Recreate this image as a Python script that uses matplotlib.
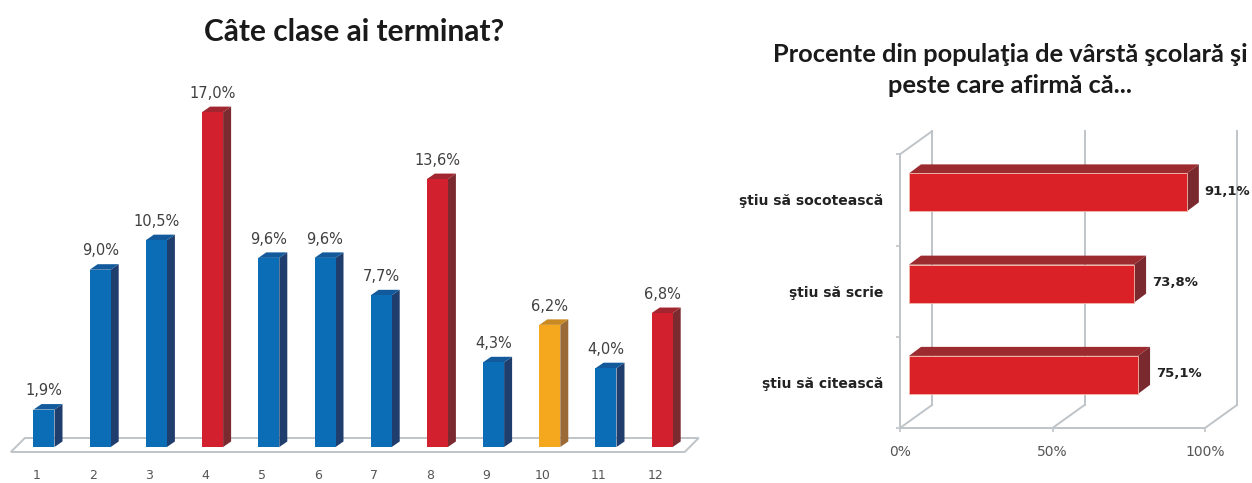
import matplotlib
matplotlib.use("Agg")
import matplotlib.pyplot as plt
from matplotlib.patches import Polygon, Rectangle

# left chart: number of finished grades
grades = list(range(1, 13))
grade_pct = [1.9, 9.0, 10.5, 17.0, 9.6, 9.6, 7.7, 13.6, 4.3, 6.2, 4.0, 6.8]
grade_group = ["b", "b", "b", "r", "b", "b", "b", "r", "b", "o", "b", "r"]

# right chart: literacy skills
skills = ["ştiu să citească", "ştiu să scrie", "ştiu să socotească"]
skill_pct = [75.1, 73.8, 91.1]
pct_ticks = [0, 50, 100]

palette = {
    "b": ("#0B6DB6", "#125A9C", "#1F3E6D"),   # front, top, side
    "r": ("#D2202F", "#A2262F", "#7B2A30"),
    "o": ("#F5A81E", "#C98A24", "#9B6A36"),
}
grid_col = "#BFC4C9"

fig = plt.figure(figsize=(12.52, 4.83), dpi=100)
W, H = 1252, 483


def px_axes(x0, x1, ytop, ybot):
    return fig.add_axes([x0 / W, (H - ybot) / H, (x1 - x0) / W, (ybot - ytop) / H])


# ---------- left: 3D columns ----------
sx, sy = 56.2, 19.7              # pixels per category / per percent
xl0, xl1, yl0, yl1 = 0.25, 12.7, -0.75, 19.5
ax1 = px_axes(44 + sx * (xl0 - 1), 44 + sx * (xl1 - 1), 447 - sy * yl1, 447 - sy * yl0)
ax1.set_xlim(xl0, xl1)
ax1.set_ylim(yl0, yl1)
for s in ax1.spines.values():
    s.set_visible(False)
ax1.set_yticks([])

hw = 10.5 / sx                   # half width of a column front
dx, dy = 8 / sx, 5.5 / sy        # column depth
fdx, fdy = 14 / sx, 14 / sy      # floor depth
ffront = -5 / sy

fl, fr = grades[0] - 0.59, grades[-1] + 0.4
ax1.add_patch(Polygon([(fl, ffront), (fr, ffront), (fr + fdx, ffront + fdy),
                       (fl + fdx, ffront + fdy)], closed=True,
                      facecolor="white", edgecolor=grid_col, lw=1.4, zorder=1))

for x, v, g in zip(grades, grade_pct, grade_group):
    front, top, side = palette[g]
    ax1.add_patch(Polygon([(x + hw, 0), (x + hw + dx, dy), (x + hw + dx, v + dy), (x + hw, v)],
                          closed=True, facecolor=side, edgecolor="none", zorder=2))
    ax1.add_patch(Polygon([(x - hw, v), (x - hw + dx, v + dy), (x + hw + dx, v + dy), (x + hw, v)],
                          closed=True, facecolor=top, edgecolor="none", zorder=2))
    ax1.add_patch(Rectangle((x - hw, 0), 2 * hw, v, facecolor=front, edgecolor="none", zorder=3))
    ax1.annotate(f"{v:.1f}%".replace(".", ","), (x, v), xytext=(0, 13.5),
                 textcoords="offset points", ha="center", va="center",
                 fontsize=10.5, color="#404040", family="DejaVu Sans")

ax1.set_xticks([g - 7 / sx for g in grades])
ax1.set_xticklabels([str(g) for g in grades], fontsize=9, color="#555555")
ax1.tick_params(axis="x", length=0, pad=5)

fig.text(354 / W, 1 - 32 / H, "Câte clase ai terminat?", ha="center", va="center",
         fontsize=21.5, fontweight="bold", family="Lato", color="#1a1a1a")

# ---------- right: 3D horizontal bars ----------
ux, uy = 3.05, 91.25             # pixels per percent / per category
ax2 = px_axes(900, 1252, 428 - uy * 3.3, 428)
ax2.set_xlim(0, 352 / ux)
ax2.set_ylim(-0.5, 2.8)

Dx, Dy = 32 / ux, 23 / uy        # wall depth
bfx, bfy = 9 / ux, 7.5 / uy      # bar front offset from the front plane
bbx, bby = 21 / ux, 16.5 / uy    # bar back offset
bh = 19 / uy

for s in ["top", "right"]:
    ax2.spines[s].set_visible(False)
ax2.spines["left"].set_bounds(-0.5, 2.5)
ax2.spines["bottom"].set_bounds(0, 100)
for s in ["left", "bottom"]:
    ax2.spines[s].set_color(grid_col)
    ax2.spines[s].set_linewidth(1.4)

ny = len(skills)
# back wall, floor diagonals and side wall top edge
for t in pct_ticks:
    ax2.plot([t, t + Dx], [-0.5, -0.5 + Dy], color=grid_col, lw=1.4, zorder=1)
    ax2.plot([t + Dx, t + Dx], [-0.5 + Dy, ny - 0.5 + Dy], color=grid_col, lw=1.4, zorder=1)
ax2.plot([0, Dx], [ny - 0.5, ny - 0.5 + Dy], color=grid_col, lw=1.4, zorder=1)

for k, v in enumerate(skill_pct):
    y0f, y1f = k + bfy - bh, k + bfy + bh
    y0b, y1b = k + bby - bh, k + bby + bh
    ax2.add_patch(Polygon([(bfx, y1f), (bbx, y1b), (bbx + v, y1b), (bfx + v, y1f)],
                          closed=True, facecolor="#9C2B30", edgecolor="none", zorder=2))
    ax2.add_patch(Polygon([(bfx + v, y0f), (bbx + v, y0b), (bbx + v, y1b), (bfx + v, y1f)],
                          closed=True, facecolor="#7A2A2F", edgecolor="none", zorder=2))
    ax2.add_patch(Rectangle((bfx, y0f), v, 2 * bh, facecolor="#DA2128",
                            edgecolor="#F2B8A8", lw=0.6, zorder=3))
    ax2.text(bbx + v + 6 / ux, k + bfy + 1 / uy, f"{v:.1f}%".replace(".", ","),
             ha="left", va="center", fontsize=9.5, fontweight="bold", color="#222222")

ax2.set_yticks(range(ny))
ax2.set_yticklabels(skills, fontsize=10, fontweight="bold", color="#222222")
ax2.set_yticks([k - 0.5 for k in range(ny + 1)], minor=True)
ax2.tick_params(axis="y", which="major", length=0, pad=12)
ax2.tick_params(axis="y", which="minor", length=3, color=grid_col, width=1.2)

ax2.set_xticks(pct_ticks)
ax2.set_xticklabels([f"{t}%" for t in pct_ticks], fontsize=10, color="#555555")
ax2.tick_params(axis="x", length=3, color=grid_col, width=1.2, pad=9)

fig.text(1010 / W, 1 - 70 / H, "Procente din populaţia de vârstă şcolară şi\npeste care afirmă că...",
         ha="center", va="center", fontsize=18.3, fontweight="bold", family="Lato",
         color="#1a1a1a", linespacing=1.4)

fig.savefig("out.png", dpi=100)
